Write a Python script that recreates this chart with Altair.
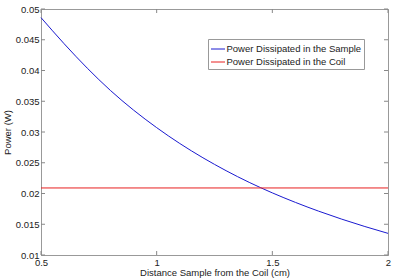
import altair as alt
import pandas as pd

# Data
distance = [0.5, 0.6, 0.7, 0.8, 0.9, 1.0, 1.1, 1.2, 1.3, 1.4, 1.5, 1.6, 1.7, 1.8, 1.9, 2.0]
sample_power = [0.04860, 0.04435, 0.04038, 0.03676, 0.03356, 0.03071, 0.02813, 0.02581,
                0.02371, 0.02181, 0.02010, 0.01855, 0.01713, 0.01583, 0.01463, 0.01352]
coil_power = 0.0209
x_ticks = [0.5, 1, 1.5, 2]
y_ticks = [0.01, 0.015, 0.02, 0.025, 0.03, 0.035, 0.04, 0.045, 0.05]
series_names = ["Power Dissipated in the Sample", "Power Dissipated in the Coil"]
series_colors = ["#1a1ad0", "#e82020"]

df = pd.DataFrame({
    "distance": distance + [distance[0], distance[-1]],
    "power": sample_power + [coil_power, coil_power],
    "series": [series_names[0]] * len(distance) + [series_names[1]] * 2,
})
xt = pd.DataFrame({"distance": x_ticks})
yt = pd.DataFrame({"power": y_ticks})

FONT = "Liberation Sans"
W, H = 347, 246
TL = 4

xscale = alt.Scale(domain=[0.5, 2], nice=False, zero=False)
yscale = alt.Scale(domain=[0.01, 0.05], nice=False, zero=False)
xaxis = alt.Axis(values=x_ticks, format="~g", title="Distance Sample from the Coil (cm)",
                 ticks=False, grid=False, labelFlush=False, labelPadding=2, titlePadding=1)
yaxis = alt.Axis(values=y_ticks, format="~g", title="Power (W)",
                 ticks=False, grid=False, labelPadding=2, titlePadding=3)

lines = alt.Chart(df).mark_line(strokeWidth=1, interpolate="monotone").encode(
    x=alt.X("distance:Q", scale=xscale, axis=xaxis),
    y=alt.Y("power:Q", scale=yscale, axis=yaxis),
    color=alt.Color(
        "series:N",
        scale=alt.Scale(domain=series_names, range=series_colors),
        sort=series_names,
        legend=alt.Legend(
            orient="none", legendX=167, legendY=30, title=None,
            symbolType="stroke", symbolSize=196, symbolStrokeWidth=1,
            labelFont=FONT, labelFontSize=9.5, labelColor="#222",
            strokeColor="#999", fillColor="white", padding=2.5,
            rowPadding=1, labelOffset=1, offset=0,
        ),
    ),
)

tick_color = "#888"
top = alt.Chart(xt).mark_rule(color=tick_color, strokeWidth=1).encode(
    x=alt.X("distance:Q", scale=xscale, axis=xaxis), y=alt.value(0), y2=alt.value(TL))
bottom = alt.Chart(xt).mark_rule(color=tick_color, strokeWidth=1).encode(
    x=alt.X("distance:Q", scale=xscale, axis=xaxis), y=alt.value(H - TL), y2=alt.value(H))
left = alt.Chart(yt).mark_rule(color=tick_color, strokeWidth=1).encode(
    y=alt.Y("power:Q", scale=yscale, axis=yaxis), x=alt.value(0), x2=alt.value(TL))
right = alt.Chart(yt).mark_rule(color=tick_color, strokeWidth=1).encode(
    y=alt.Y("power:Q", scale=yscale, axis=yaxis), x=alt.value(W - TL), x2=alt.value(W))

chart = alt.layer(top, bottom, left, right, lines).properties(
    width=W, height=H,
    padding={"left": 41, "top": 9, "right": 12, "bottom": 24},
    autosize=alt.AutoSizeParams(type="none"),
    background="white",
).configure_view(
    stroke="#999", strokeWidth=1
).configure_axis(
    domainColor="#999", labelFont=FONT, titleFont=FONT, labelFontSize=9.5,
    titleFontSize=9.5, titleFontWeight="normal", labelColor="#222", titleColor="#222",
)

chart.save("out.html", embed_options={"renderer": "svg", "actions": False})
